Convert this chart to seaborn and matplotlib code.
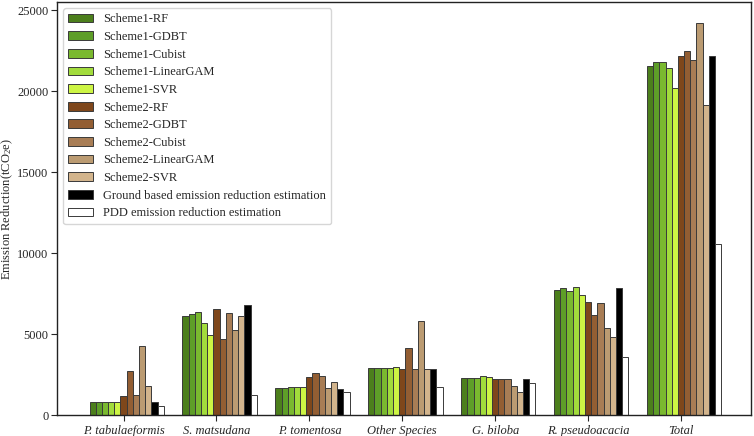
import numpy as np
import pandas as pd
import matplotlib
matplotlib.use("Agg")
import matplotlib.pyplot as plt
from matplotlib.patches import Patch
import seaborn as sns

species = ["P. tabulaeformis", "S. matsudana", "P. tomentosa", "Other Species",
           "G. biloba", "R. pseudoacacia", "Total"]
series = ["Scheme1-RF", "Scheme1-GDBT", "Scheme1-Cubist", "Scheme1-LinearGAM", "Scheme1-SVR",
          "Scheme2-RF", "Scheme2-GDBT", "Scheme2-Cubist", "Scheme2-LinearGAM", "Scheme2-SVR",
          "Ground based emission reduction estimation", "PDD emission reduction estimation"]

s1_rf        = [800, 6110, 1690, 2880, 2290, 7720, 21560]
s1_gdbt      = [800, 6220, 1700, 2880, 2280, 7860, 21810]
s1_cubist    = [800, 6360, 1710, 2890, 2290, 7640, 21810]
s1_lineargam = [800, 5660, 1710, 2900, 2390, 7940, 21460]
s1_svr       = [800, 4920, 1740, 2940, 2330, 7410, 20190]
s2_rf        = [1190, 6540, 2350, 2840, 2250, 6980, 22180]
s2_gdbt      = [2700, 4690, 2590, 4120, 2250, 6170, 22510]
s2_cubist    = [1240, 6300, 2430, 2820, 2250, 6910, 21950]
s2_lineargam = [4260, 5250, 1670, 5840, 1770, 5390, 24240]
s2_svr       = [1810, 6110, 2040, 2860, 1400, 4810, 19140]
ground       = [800, 6790, 1620, 2860, 2220, 7840, 22200]
pdd          = [540, 1240, 1420, 1710, 1980, 3580, 10540]

all_values = [s1_rf, s1_gdbt, s1_cubist, s1_lineargam, s1_svr,
              s2_rf, s2_gdbt, s2_cubist, s2_lineargam, s2_svr, ground, pdd]

colors = ["#4c7f1c", "#5e9e28", "#7ab92f", "#a2dc3c", "#cdf544",
          "#7f471b", "#935e33", "#a87d55", "#bb9b72", "#d2b48c",
          "#000000", "#ffffff"]

rows = []
for name, vals in zip(series, all_values):
    for sp, v in zip(species, vals):
        rows.append({"Species": sp, "Series": name, "Value": v})
df = pd.DataFrame(rows)

sns.set_style("ticks")
plt.rcParams["font.family"] = ["Liberation Serif", "DejaVu Serif"]
plt.rcParams["mathtext.fontset"] = "custom"
plt.rcParams["mathtext.rm"] = "Liberation Serif"
plt.rcParams["mathtext.it"] = "Liberation Serif:italic"

fig = plt.figure(figsize=(7.54, 4.36), dpi=100)
ax = fig.add_axes([0.0756, 0.048, 0.9204, 0.947])

sns.barplot(data=df, x="Species", y="Value", hue="Series", order=species,
            hue_order=series, palette=colors, width=0.8, edgecolor="#3a3a3a",
            linewidth=0.7, saturation=1, legend=False, ax=ax)

w = 0.8 / len(series)
ax.set_xticks(np.arange(len(species)) - w / 2)
ax.set_xticklabels(species, fontstyle="italic", fontsize=9)
ax.set_xlim(-0.75, 6.72)
ax.set_ylim(0, 25500)
ax.set_yticks([0, 5000, 10000, 15000, 20000, 25000])
ax.tick_params(axis="y", labelsize=9, length=4, pad=2)
ax.tick_params(axis="x", length=4, pad=3)
ax.set_xlabel("")
ax.set_ylabel("Emission Reduction(tCO$_2$e)", fontsize=9, labelpad=2)

for sp in ax.spines.values():
    sp.set_visible(True)
    sp.set_color("#222222")
    sp.set_linewidth(1.0)

handles = [Patch(facecolor=c, edgecolor="#3a3a3a", linewidth=0.7) for c in colors]
ax.legend(handles, series, loc="upper left", fontsize=9.0, labelspacing=0.45,
          handlelength=2.0, handleheight=0.7, borderaxespad=0.5, frameon=True)

fig.savefig("out.png", dpi=100)
